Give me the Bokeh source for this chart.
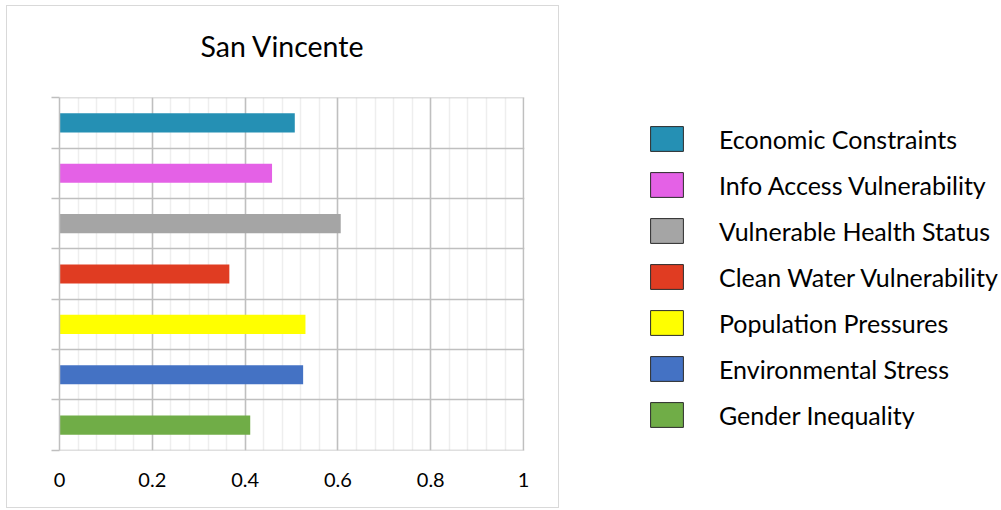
from bokeh.plotting import figure
from bokeh.models import (ColumnDataSource, FixedTicker, Legend, LegendItem, Range1d)
from bokeh.layouts import row
from bokeh.embed import file_html
from bokeh.resources import INLINE

# ---- data ----
title_text = "San Vincente"
categories = ["Gender Inequality", "Environmental Stress", "Population Pressures",
              "Clean Water Vulnerability", "Vulnerable Health Status",
              "Info Access Vulnerability", "Economic Constraints"]
values = [0.411, 0.525, 0.530, 0.366, 0.606, 0.458, 0.507]
colors = ["#70AD47", "#4472C4", "#FFFF00", "#E03C22", "#A5A5A5", "#E461E6", "#2590B4"]
x_ticks = [0, 0.2, 0.4, 0.6, 0.8, 1]
x_tick_labels = ["0", "0.2", "0.4", "0.6", "0.8", "1"]
x_minor = [round(i * 0.04, 2) for i in range(26)]

FONT = "Lato"
OX, OY = 7, 6            # page position of chart canvas (after margin + border)
CW, CH = 553, 503        # chart canvas size
FL, FR, FT, FB = 59, 524, 97, 450   # frame edges in page coords
TOP = FT - OY
BOT = CH - (FB - OY)

ypos = [i + 0.5 for i in range(len(categories))]
src = ColumnDataSource(dict(y=ypos, v=values, c=colors, name=categories))

p = figure(width=CW, height=CH, output_backend="svg", toolbar_location=None,
           x_range=Range1d(0, 1.002), y_range=Range1d(-0.004, 7.004),
           min_border_left=FL - OX, min_border_right=CW - (FR - OX),
           min_border_top=TOP, min_border_bottom=BOT)
p.margin = (OY - 1, 0, 0, OX - 1)
p.styles = {"border": "1px solid #d9d9d9"}
p.outline_line_color = None
p.background_fill_color = "white"
p.border_fill_color = "white"

p.hbar(y="y", left=0, right="v", height=0.38, fill_color="c", line_color=None, source=src)

# title (a trailing empty line lifts it well above the plot area)
p.title.text = title_text + "\n"
p.title.align = "left"
p.title.offset = 200 - FL
p.title.text_font = FONT
p.title.text_font_size = "28.5px"
p.title.text_font_style = "normal"
p.title.text_color = "#000000"
p.title.standoff = 2

# grids
p.xaxis.ticker = FixedTicker(ticks=x_ticks, minor_ticks=x_minor)
p.yaxis.ticker = FixedTicker(ticks=list(range(len(categories) + 1)))
p.xgrid.grid_line_color = "#bfbfbf"
p.xgrid.grid_line_width = 1.5
p.xgrid.minor_grid_line_color = "#eeeeee"
p.xgrid.minor_grid_line_width = 1.5
p.ygrid.grid_line_color = "#bfbfbf"
p.ygrid.grid_line_width = 1.5

# x axis
xa = p.xaxis[0]
xa.axis_line_color = None
xa.major_tick_line_color = None
xa.minor_tick_line_color = None
xa.major_label_overrides = {t: l for t, l in zip(x_ticks, x_tick_labels)}
xa.major_label_text_font = FONT
xa.major_label_text_font_size = "20px"
xa.major_label_text_color = "#000000"
xa.major_label_standoff = 16

# y axis
ya = p.yaxis[0]
ya.axis_line_color = "#bfbfbf"
ya.axis_line_width = 1.5
ya.major_tick_line_color = "#bfbfbf"
ya.major_tick_line_width = 1.5
ya.major_tick_out = 8
ya.major_tick_in = 0
ya.minor_tick_line_color = None
ya.major_label_overrides = {i: "" for i in range(len(categories) + 1)}
ya.major_label_standoff = 0

# ---- legend figure ----
LW, LH = 1001 - 561, 510
q = figure(width=LW, height=LH, output_backend="svg", toolbar_location=None,
           x_range=Range1d(0, 1), y_range=Range1d(0, 1),
           min_border_left=0, min_border_right=0,
           min_border_top=TOP, min_border_bottom=BOT,
           x_axis_type=None, y_axis_type=None)
q.outline_line_color = None
q.grid.visible = False
items = []
for name, col, v in list(zip(categories, colors, values))[::-1]:
    # legend swatch renderers (hidden; only their legend swatches are shown)
    r = q.hbar(y=[0.5], left=[0], right=[v], height=0.38, fill_color=col,
               line_color="#2b2b2b", line_width=1, visible=False)
    items.append(LegendItem(label=name, renderers=[r]))
leg = Legend(items=items, location=(87, 21), padding=0, margin=0,
             border_line_color=None, background_fill_color=None,
             glyph_width=41, glyph_height=31, label_standoff=32,
             label_height=24, spacing=15, label_text_font=FONT,
             label_text_font_size="25px", label_text_color="#000000")
q.add_layout(leg)

layout = row(p, q)
open("out.html", "w").write(file_html(layout, INLINE))
